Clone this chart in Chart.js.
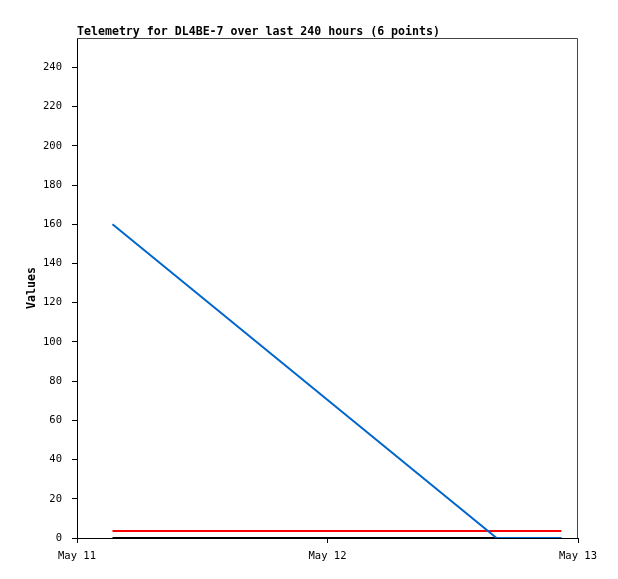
<!DOCTYPE html>
<html>
<head>
<meta charset="utf-8">
<script src="https://cdn.jsdelivr.net/npm/chart.js@4"></script>
<style>
html,body{margin:0;padding:0;background:#fff}
#wrap{width:618px;height:579px}
</style>
</head>
<body>
<div id="wrap"><canvas id="chart" width="618" height="579"></canvas></div>
<script>
// hours since May 11 00:00
const hours=[3.4,40.2,46.4]
const blueVals=[160,0,0]
const redVals=[3.6,3.6,3.6]
const blackVals=[0,0,0]
const dayLabels={0:"May 11",24:"May 12",48:"May 13"}
const yTicks=[0,20,40,60,80,100,120,140,160,180,200,220,240]

const mono="'DejaVu Sans Mono', monospace"

function pts(vals){
return hours.map((h,i)=>({x:h,y:vals[i]}))
}

const frame={
id:"frame",
afterDraw(chart){
const c=chart.ctx
const a=chart.chartArea
c.save()
c.strokeStyle="#444"
c.lineWidth=1
c.beginPath()
c.moveTo(a.left,a.top+0.5)
c.lineTo(a.right-0.5,a.top+0.5)
c.lineTo(a.right-0.5,a.bottom)
c.stroke()
c.fillStyle="#000"
c.font="bold 11.6px "+mono
c.textBaseline="alphabetic"
c.fillText("Telemetry for DL4BE-7 over last 240 hours (6 points)",a.left,a.top-3)
c.restore()
}
}

new Chart(document.getElementById("chart"),{
type:"line",
data:{
datasets:[
{data:pts(blueVals),borderColor:"#0066cc",borderWidth:2,pointRadius:0,tension:0},
{data:pts(redVals),borderColor:"#ff0000",borderWidth:2,pointRadius:0,tension:0},
{data:pts(blackVals),borderColor:"#000000",borderWidth:2,pointRadius:0,tension:0}
]
},
options:{
responsive:false,
animation:false,
layout:{padding:{left:25,top:38,right:40,bottom:10}},
plugins:{legend:{display:false},tooltip:{enabled:false},title:{display:false}},
scales:{
x:{
type:"linear",min:0,max:48,
afterBuildTicks(s){s.ticks=[0,24,48].map(v=>({value:v}))},
afterFit(s){s.height=31},
grid:{drawOnChartArea:false,drawTicks:true,tickLength:5,color:"#000"},
border:{color:"#000",width:1},
ticks:{color:"#000",font:{family:mono,size:10.5},padding:7,maxRotation:0,
callback:v=>dayLabels[v]||""}
},
y:{
min:0,max:255,
afterBuildTicks(s){s.ticks=yTicks.map(v=>({value:v}))},
afterFit(s){s.width=52},
grid:{drawOnChartArea:false,drawTicks:true,tickLength:5,color:"#000"},
border:{color:"#000",width:1},
ticks:{color:"#000",font:{family:mono,size:10.5},padding:10},
title:{display:true,text:"Values",color:"#000",font:{family:mono,size:11.6,weight:"bold"},padding:0}
}
}
},
plugins:[frame]
})
</script>
</body>
</html>
